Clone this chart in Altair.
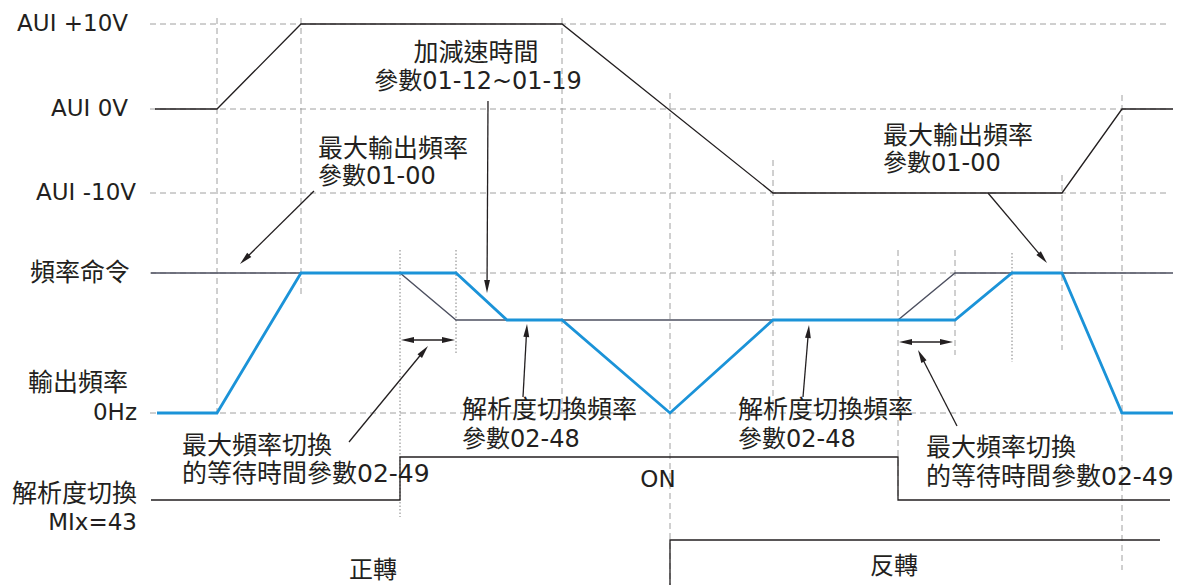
import math
import altair as alt
import pandas as pd

FONT = "DejaVu Sans, Noto Sans CJK TC, sans-serif"
INK = "#231f20"
BLUE = "#1b93d8"
GUIDE = "#a0a0a0"
CMD_GRAY = "#4d5060"
FS_LATIN = 23
FS_MIXED = 24
FS_CJK = 25

# ---------------- signal traces (time position, level) ----------------
aui_t = [155, 217, 301, 562, 773, 1062, 1122, 1173]
aui_y = [109, 109, 24, 24, 193, 193, 109, 109]

cmd_t = [151, 400, 456, 898, 955, 1173]
cmd_y = [273, 273, 320, 320, 273, 273]

out_t = [157, 217, 301, 456, 507, 562, 670, 773, 955, 1012, 1062, 1122, 1173]
out_y = [413, 413, 273, 273, 320, 320, 413, 320, 320, 273, 273, 413, 413]

mix_t = [151, 400, 400, 898, 898, 1170]
mix_y = [500, 500, 457, 457, 500, 500]

dir_t = [670, 670, 1160]
dir_y = [600, 540, 540]

# ---------------- guide lines ----------------
hguide_y = [24, 109, 193, 273, 413]
hguide_x0 = [150, 150, 150, 150, 150]
hguide_x1 = [1168, 1168, 1168, 1168, 1168]

vdash_x = [217, 301, 562, 670, 773, 898, 955, 1062, 1122]
vdash_y0 = [18, 18, 18, 93, 160, 250, 250, 175, 95]
vdash_y1 = [413, 297, 413, 590, 413, 500, 355, 350, 570]

vdot_x = [400, 456, 1012]
vdot_y0 = [250, 250, 253]
vdot_y1 = [517, 355, 362]

# ---------------- arrows (tail -> tip) ----------------
arrow_x0 = [314, 488, 523, 349, 803, 957, 988]
arrow_y0 = [191, 101, 397, 442, 397, 426, 193]
arrow_x1 = [240, 487, 527, 428, 809, 918, 1047]
arrow_y1 = [264, 293, 324, 346, 325, 350, 263]

dbl_x0 = [401, 899]
dbl_x1 = [455, 953]
dbl_y = [340, 342]

# ---------------- texts ----------------
lab_text = ["AUI +10V", "AUI 0V", "AUI -10V", "頻率命令", "輸出頻率", "0Hz", "解析度切換", "MIx=43"]
lab_x = [128, 128, 136, 130, 128, 137, 137, 137]
lab_y = [24, 109, 193, 273, 383, 413, 494, 523]

note_text = ["最大輸出頻率", "參數01-00", "最大輸出頻率", "參數01-00",
             "解析度切換頻率", "參數02-48", "解析度切換頻率", "參數02-48",
             "最大頻率切換", "的等待時間參數02-49", "最大頻率切換", "的等待時間參數02-49",
             "正轉", "反轉"]
note_x = [318, 318, 883, 883, 462, 462, 738, 738, 182, 182, 926, 926, 349, 870]
note_y = [149, 177, 136, 164, 410, 440, 410, 440, 446, 474, 448, 477, 571, 567]

mid_text = ["加減速時間", "參數01-12~01-19", "ON"]
mid_x = [476, 478, 658]
mid_y = [53, 82, 480]

# ---------------- build ----------------
XS = alt.Scale(domain=[8, 1181])
YS = alt.Scale(domain=[8, 585], reverse=True)


def X(f="x"):
    return alt.X(f"{f}:Q", scale=XS, axis=None)


def Y(f="y"):
    return alt.Y(f"{f}:Q", scale=YS, axis=None)


def trace(ts, ys, color, width):
    df = pd.DataFrame({"x": ts, "y": ys, "o": list(range(len(ts)))})
    return alt.Chart(df).mark_line(color=color, strokeWidth=width, strokeJoin="miter").encode(
        x=X(), y=Y(), order="o:Q")


def segs(x0, y0, x1, y1, **kw):
    df = pd.DataFrame({"x": x0, "y": y0, "x2": x1, "y2": y1})
    return alt.Chart(df).mark_rule(**kw).encode(
        x=X(), y=Y(), x2="x2:Q", y2="y2:Q")


layers = []
# guides
layers.append(segs(hguide_x0, hguide_y, hguide_x1, hguide_y, color=GUIDE, strokeWidth=1, strokeDash=[6, 4]))
layers.append(segs(vdash_x, vdash_y0, vdash_x, vdash_y1, color=GUIDE, strokeWidth=1, strokeDash=[6, 4]))
layers.append(segs(vdot_x, vdot_y0, vdot_x, vdot_y1, color="#808080", strokeWidth=1, strokeDash=[1.5, 2]))

# traces
layers.append(trace(aui_t, aui_y, INK, 1.3))
layers.append(trace(cmd_t, cmd_y, CMD_GRAY, 1.3))
layers.append(trace(mix_t, mix_y, INK, 1.3))
layers.append(trace(dir_t, dir_y, INK, 1.3))
layers.append(trace(out_t, out_y, BLUE, 2.8))

# arrows
HEAD = 13.0
sx0, sy0, sx1, sy1, hx, hy, ha = [], [], [], [], [], [], []


def add_head(xt, yt, dx, dy):
    n = math.hypot(dx, dy)
    ux, uy = dx / n, dy / n
    hx.append(xt - ux * HEAD / 2)
    hy.append(yt - uy * HEAD / 2)
    ha.append(math.degrees(math.atan2(dx, -dy)) % 360)
    return ux, uy


for a, b, c, d in zip(arrow_x0, arrow_y0, arrow_x1, arrow_y1):
    ux, uy = add_head(c, d, c - a, d - b)
    sx0.append(a); sy0.append(b)
    sx1.append(c - ux * HEAD * 0.8); sy1.append(d - uy * HEAD * 0.8)

for a, c, y in zip(dbl_x0, dbl_x1, dbl_y):
    add_head(a, y, a - c, 0)
    add_head(c, y, c - a, 0)
    sx0.append(a + HEAD * 0.8); sy0.append(y)
    sx1.append(c - HEAD * 0.8); sy1.append(y)

layers.append(segs(sx0, sy0, sx1, sy1, color=INK, strokeWidth=1.3))
heads = pd.DataFrame({"x": hx, "y": hy, "a": ha})
layers.append(alt.Chart(heads).mark_point(
    shape="M0,-1L0.45,1L-0.45,1Z", filled=True, opacity=1, color=INK, strokeWidth=0, size=HEAD * HEAD
).encode(x=X(), y=Y(), angle=alt.Angle("a:Q", scale=None)))


def font_size(s):
    n_cjk = sum(1 for ch in s if ord(ch) > 0x2E80)
    if n_cjk == 0:
        return FS_LATIN
    return FS_CJK if n_cjk >= 4 else FS_MIXED


def texts(txt, xs, ys, align):
    df = pd.DataFrame({"x": xs, "y": ys, "t": txt, "fs": [font_size(s) for s in txt]})
    return alt.Chart(df).mark_text(
        align=align, baseline="middle", font=FONT, color=INK
    ).encode(x=X(), y=Y(), text="t:N", size=alt.Size("fs:Q", scale=None))


layers.append(texts(lab_text, lab_x, lab_y, "right"))
layers.append(texts(note_text, note_x, note_y, "left"))
layers.append(texts(mid_text, mid_x, mid_y, "center"))

chart = alt.layer(*layers).properties(
    width=1173, height=577, padding=0, autosize="none", background="white"
).configure_view(stroke=None)

chart.save("out.html", embed_options={"renderer": "svg", "actions": False})
